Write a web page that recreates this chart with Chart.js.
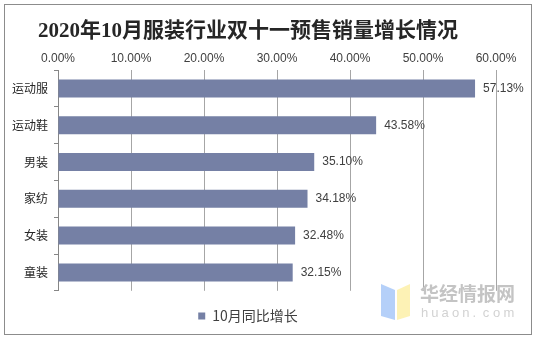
<!DOCTYPE html>
<html><head><meta charset="utf-8">
<script src="https://cdn.jsdelivr.net/npm/chart.js@4.4.0/dist/chart.umd.min.js"></script>
<style>html,body{margin:0;padding:0;background:#fff;}#wrap{width:535px;height:339px;position:relative;}</style>
</head><body><div id="wrap"><canvas id="c" width="535" height="339"></canvas></div>
<script>
const chartTitle = '2020年10月服装行业双十一预售销量增长情况';
const categories = ['运动服', '运动鞋', '男装', '家纺', '女装', '童装'];
const seriesName = '10月同比增长';
const values = [57.13, 43.58, 35.10, 34.18, 32.48, 32.15];
const xMin = 0, xMax = 60, xStep = 10;
const barColor = '#7580A5';

const cjk = "'Noto Sans CJK SC', sans-serif";
const latin = "'Liberation Sans', Arial, 'Noto Sans CJK SC', sans-serif";

const frame = {
  id: 'frame',
  beforeDraw(c) {
    const ctx = c.ctx;
    ctx.save();
    ctx.fillStyle = '#fff';
    ctx.fillRect(0, 0, c.width, c.height);
    ctx.strokeStyle = '#8c8c8c';
    ctx.lineWidth = 1;
    ctx.strokeRect(4.5, 4.5, 527, 330);
    ctx.restore();
  },
  afterDraw(c) {
    const ctx = c.ctx;
    ctx.save();
    // watermark
    ctx.globalAlpha = 0.85;
    ctx.fillStyle = '#a8c8f8';
    ctx.beginPath();
    ctx.moveTo(381, 284); ctx.lineTo(395, 290); ctx.lineTo(395, 320); ctx.lineTo(381, 316); ctx.closePath(); ctx.fill();
    ctx.fillStyle = '#fdf0a8';
    ctx.beginPath();
    ctx.moveTo(397, 290); ctx.lineTo(410, 284); ctx.lineTo(410, 316); ctx.lineTo(397, 320); ctx.closePath(); ctx.fill();
    ctx.globalAlpha = 1;
    ctx.fillStyle = '#c4c4c4';
    ctx.font = "bold 19px 'Noto Sans CJK SC', sans-serif";
    ctx.textBaseline = 'middle';
    ctx.textAlign = 'left';
    ctx.fillText('华经情报网', 420, 294);
    ctx.fillStyle = '#d2d2d2';
    ctx.font = "13px 'Liberation Sans', Arial, sans-serif";
    const s = 'huaon.com';
    let x = 421;
    for (const ch of s) { ctx.fillText(ch, x, 313); x += 10.3; }
    ctx.restore();
  }
};

const dataLabels = {
  id: 'dataLabels',
  afterDatasetsDraw(c) {
    const ctx = c.ctx;
    ctx.save();
    ctx.fillStyle = '#404040';
    ctx.font = "12px " + latin;
    ctx.textAlign = 'left';
    ctx.textBaseline = 'middle';
    c.getDatasetMeta(0).data.forEach((bar, i) => {
      ctx.fillText(values[i].toFixed(2) + '%', bar.x + 8, bar.y);
    });
    ctx.restore();
  }
};

new Chart(document.getElementById('c'), {
  type: 'bar',
  data: {
    labels: categories,
    datasets: [{
      label: seriesName,
      data: values,
      backgroundColor: barColor,
      borderWidth: 0,
      barPercentage: 0.49,
      categoryPercentage: 1.0
    }]
  },
  options: {
    indexAxis: 'y',
    responsive: false,
    animation: false,
    devicePixelRatio: 1,
    layout: { padding: { left: 0, right: 39, top: 0, bottom: 6 } },
    plugins: {
      title: {
        display: true,
        text: chartTitle,
        color: '#262626',
        font: { family: "'Liberation Serif', 'Noto Sans CJK SC', serif", size: 21, weight: 'bold' },
        padding: { top: 19, bottom: 0 }
      },
      legend: {
        display: true,
        position: 'bottom',
        title: { display: true, text: '', padding: { top: 7, bottom: 0 }, font: { size: 1 } },
        labels: {
          boxWidth: 7, boxHeight: 7, color: '#404040',
          font: { family: cjk, size: 14 },
          padding: 10
        }
      },
      tooltip: { enabled: false }
    },
    scales: {
      x: {
        position: 'top',
        min: xMin, max: xMax,
        ticks: {
          stepSize: xStep,
          color: '#404040',
          font: { family: latin, size: 12 },
          padding: 4,
          callback: v => Number(v).toFixed(2) + '%'
        },
        grid: { color: '#a6a6a6', drawTicks: false, lineWidth: 1 },
        border: { display: false },
        afterFit: s => { s.height = 25.8; }
      },
      y: {
        ticks: { color: '#262626', font: { family: cjk, size: 12 }, padding: 6 },
        grid: { drawOnChartArea: false, drawTicks: true, tickLength: 4, color: '#868686' },
        border: { display: true, color: '#868686' },
        afterFit: s => { s.width = 58; }
      }
    }
  },
  plugins: [frame, dataLabels]
});
</script></body></html>
